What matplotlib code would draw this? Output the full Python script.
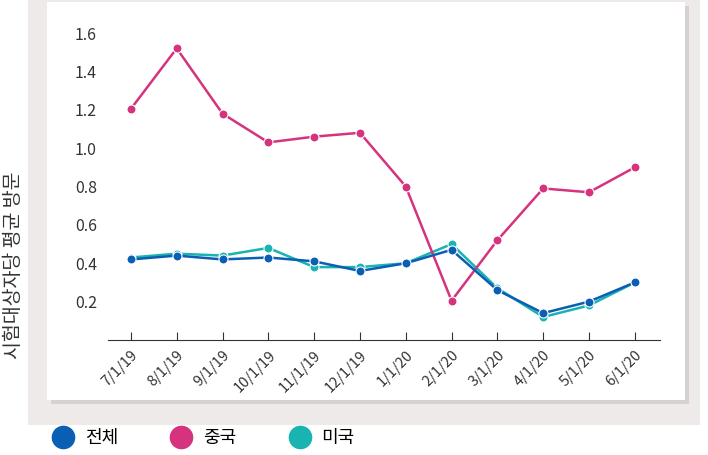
import matplotlib
matplotlib.use("Agg")
import matplotlib.pyplot as plt
from matplotlib.patches import Rectangle
from matplotlib.lines import Line2D

plt.rcParams["font.family"] = ["Noto Sans CJK KR", "Noto Sans CJK JP", "Noto Sans CJK SC", "Noto Sans CJK TC", "DejaVu Sans"]

months = ["7/1/19","8/1/19","9/1/19","10/1/19","11/1/19","12/1/19","1/1/20","2/1/20","3/1/20","4/1/20","5/1/20","6/1/20"]
total = [0.42,0.44,0.42,0.43,0.41,0.36,0.40,0.47,0.26,0.14,0.20,0.30]
china = [1.205,1.52,1.18,1.03,1.06,1.08,0.80,0.205,0.52,0.79,0.77,0.90]
usa = [0.43,0.45,0.44,0.48,0.38,0.38,0.40,0.50,0.27,0.12,0.18,0.30]
yticks = [0.2,0.4,0.6,0.8,1.0,1.2,1.4,1.6]

W, H = 708, 455
fig = plt.figure(figsize=(W/100, H/100), dpi=100, facecolor="white")
fig.patches.append(Rectangle((28/W, 1-425/H), 672/W, 425/H, transform=fig.transFigure, facecolor="#efeaea", edgecolor="none", zorder=-10))
fig.patches.append(Rectangle((51/W, 1-404/H), 638/W, 398/H, transform=fig.transFigure, facecolor="#d6d2d2", edgecolor="none", zorder=-9))
fig.patches.append(Rectangle((47/W, 1-400/H), 638/W, 398/H, transform=fig.transFigure, facecolor="white", edgecolor="none", zorder=-8))

ax = fig.add_axes([108/W, 1-340/H, 552/W, 320/H])
ax.set_zorder(5)
ax.set_facecolor("none")
x = list(range(len(months)))
c_total, c_china, c_usa = "#0a5fb4", "#d6337e", "#19b3b1"
for vals, c in [(usa, c_usa), (china, c_china), (total, c_total)]:
    ax.plot(x, vals, color=c, lw=1.8, marker="o", ms=6.5, mec="white", mew=0.8)
ax.set_xlim(-0.5, 11.55)
ax.set_ylim(0.0, 1.668)
ax.set_xticks(x)
ax.set_xticklabels(months, rotation=45, ha="right", rotation_mode="anchor", fontsize=10.5, color="#333333")
ax.set_yticks(yticks)
ax.set_yticklabels([f"{v:.1f}" for v in yticks], fontsize=11.5, color="#333333")
for s in ["top", "right", "left"]:
    ax.spines[s].set_visible(False)
ax.spines["bottom"].set_color("#333333")
ax.tick_params(axis="y", length=0, pad=8)
ax.tick_params(axis="x", direction="in", length=6, color="#333333", pad=6)

fig.text(14/W, 1-265/H, "시험대상자당 평균 방문", rotation=90, ha="center", va="center", fontsize=14, color="#333333")

handles = [Line2D([], [], ls="", marker="o", ms=16, color=c) for c in (c_total, c_china, c_usa)]
fig.legend(handles, ["전체", "중국", "미국"], loc="center left", bbox_to_anchor=(38/W, 1-438/H),
           ncol=3, frameon=False, fontsize=13, handletextpad=0.2, columnspacing=2.5, borderaxespad=0)
fig.savefig("out.png", dpi=100, facecolor="white")
